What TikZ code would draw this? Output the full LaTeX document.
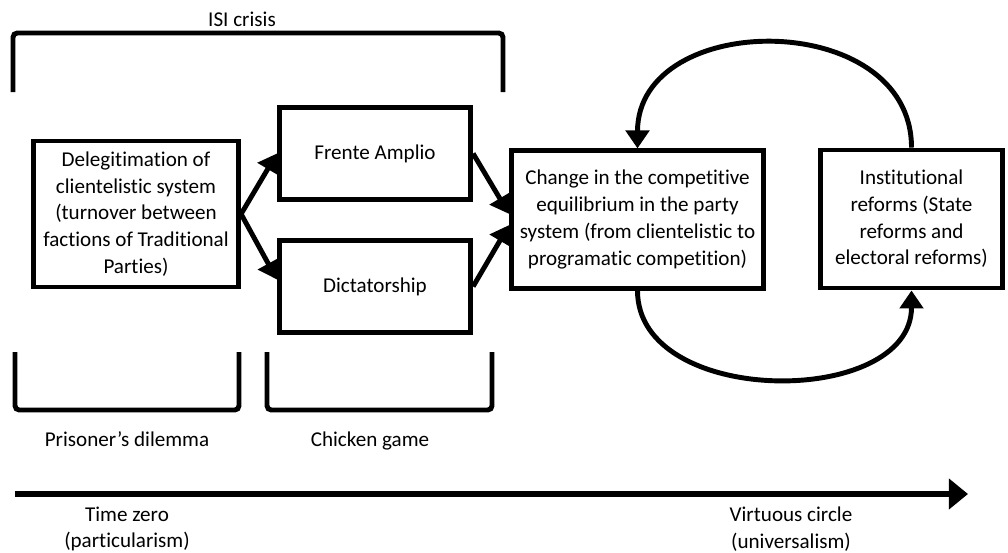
\documentclass[tikz,border=0pt]{standalone}
\usepackage{fontspec}
\setmainfont{Carlito}[Ligatures=NoCommon]
\usetikzlibrary{arrows.meta}
\begin{document}
\begin{tikzpicture}[x=0.025cm, y=0.025cm,
    every node/.style={font=\fontsize{15}{19}\selectfont, align=center},
    box/.style={draw, line width=3.5pt, inner sep=2pt},
    bracket/.style={line width=3.5pt, rounded corners=3pt},
    link/.style={line width=3.5pt, -{Triangle[length=0.45cm, width=0.58cm]}},
    timeline/.style={line width=4.2pt, -{Triangle[length=0.48cm, width=0.75cm]}}]
  \useasboundingbox (0,0) rectangle (1008,-553);
  % boxes
  \node[box, minimum width=5.13cm, minimum height=3.65cm] (deleg) at (136,-214)
    {Delegitimation of\\clientelistic system\\(turnover between\\factions of Traditional\\Parties)};
  \node[box, minimum width=4.78cm, minimum height=2.3cm] (frente) at (375,-153.5) {Frente Amplio};
  \node[box, minimum width=4.78cm, minimum height=2.3cm] (dict) at (375,-286.5) {Dictatorship};
  \node[box, minimum width=6.3cm, minimum height=3.43cm] (change) at (637.5,-219.5)
    {Change in the competitive\\equilibrium in the party\\system (from clientelistic to\\programatic competition)};
  \node[box, minimum width=4.53cm, minimum height=3.45cm] (instit) at (911.5,-219)
    {Institutional\\reforms (State\\reforms and\\electoral reforms)};
  % labels
  \node[anchor=base] (isi) at (242,-26) {ISI crisis};
  \node[anchor=base] (pd) at (127,-446) {Prisoner’s dilemma};
  \node[anchor=base] (chicken) at (370,-446) {Chicken game};
  \node (tzero) at (127,-529) {Time zero\\(particularism)};
  \node (virt) at (791,-529) {Virtuous circle\\(universalism)};
  % brackets
  \draw[bracket] (13,-92) -- (13,-33) -- (503,-33) -- (503,-92);
  \draw[bracket] (15,-352) -- (15,-410) -- (239,-410) -- (239,-352);
  \draw[bracket] (267,-352) -- (267,-410) -- (492,-410) -- (492,-352);
  % connectors
  \begin{scope}
    \draw[link] (deleg.east) to (frente.west);
    \draw[link] (deleg.east) to ([yshift=5pt]dict.west);
    \draw[link] (frente.east) to ([yshift=4pt]change.west);
    \draw[link] (dict.east) to ([yshift=-4pt]change.west);
    \draw[link] (instit.north) to[out=90, in=90, looseness=1.3] (change.north);
    \draw[link] (change.south) to[out=-90, in=-90, looseness=1.1] (instit.south);
  \end{scope}
  % time axis
  \coordinate (tstart) at (15,-494);
  \coordinate (tend) at (968,-494);
  \draw[timeline] (tstart) -- (tend);
\end{tikzpicture}
\end{document}
